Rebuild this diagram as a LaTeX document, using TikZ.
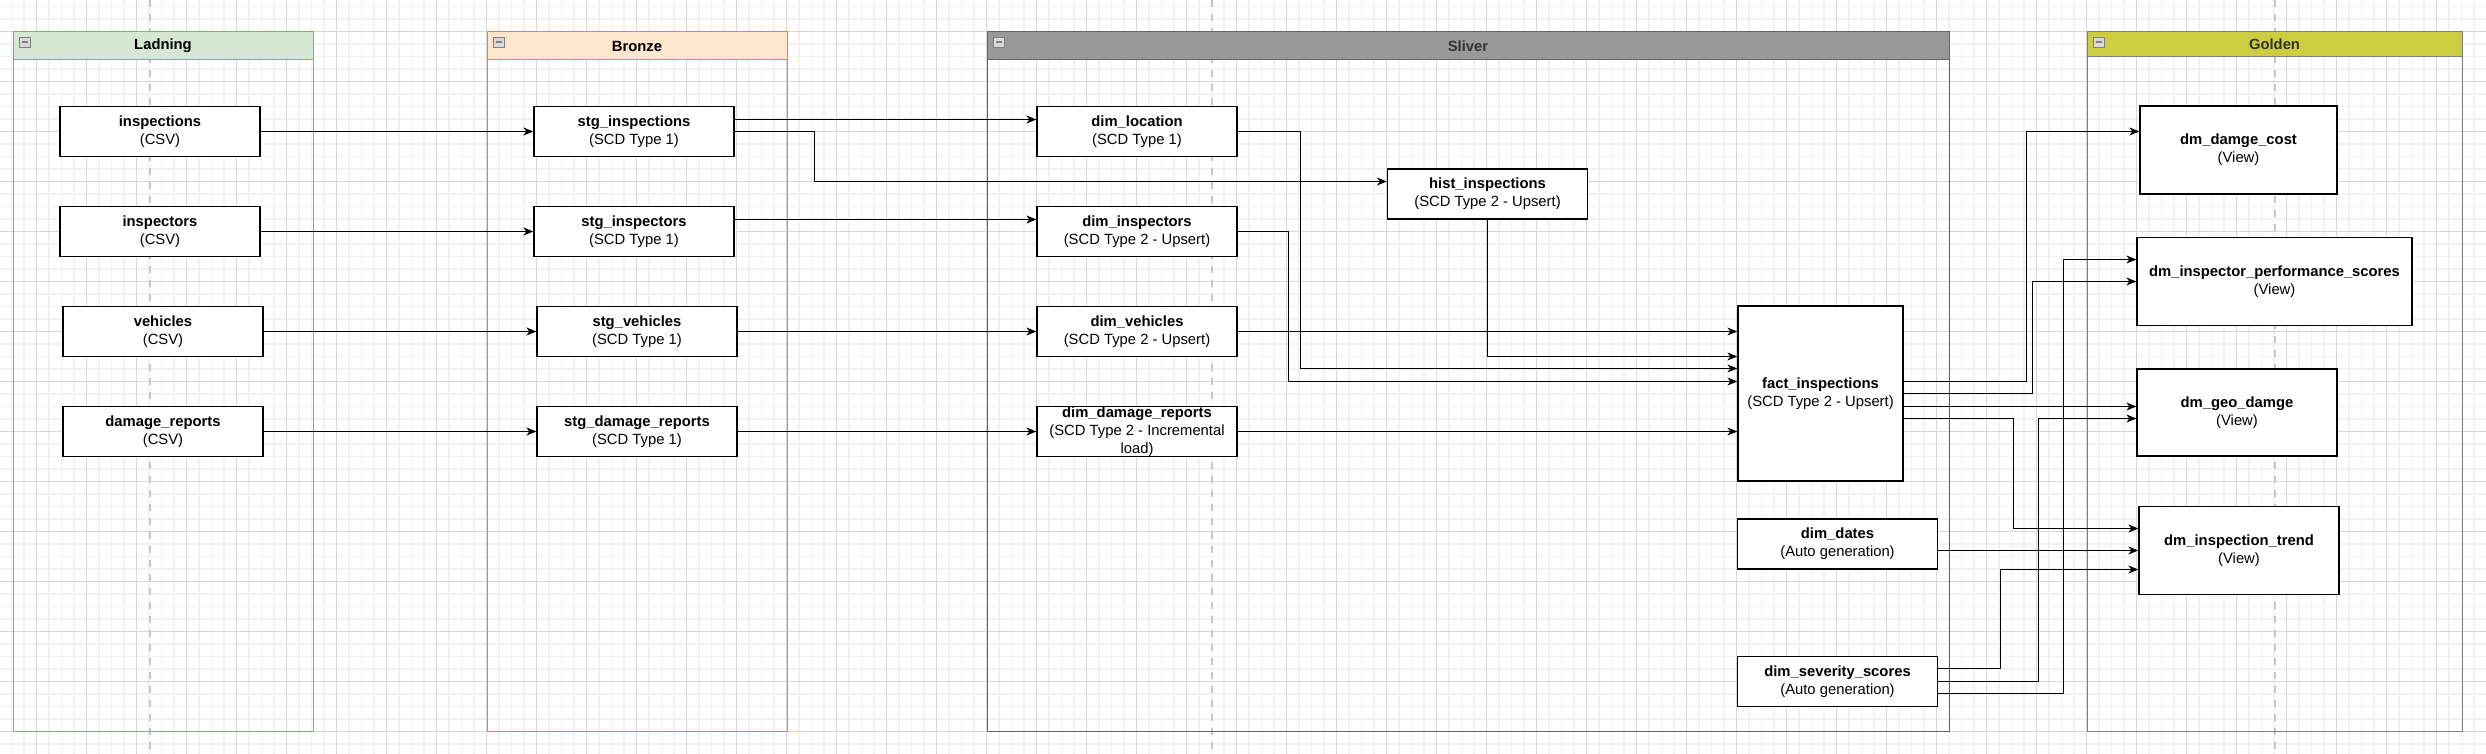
\documentclass[tikz,border=0pt]{standalone}
\usepackage{fontspec}
\setmainfont{Liberation Sans}
\usetikzlibrary{arrows.meta}

\definecolor{landfill}{HTML}{D5E8D4}
\definecolor{landline}{HTML}{82B366}
\definecolor{bronfill}{HTML}{FFE6CC}
\definecolor{bronline}{HTML}{D79B00}
\definecolor{silvfill}{HTML}{999999}
\definecolor{silvline}{HTML}{666666}
\definecolor{goldfill}{HTML}{CDCD40}
\definecolor{goldline}{HTML}{808080}
\definecolor{headtext}{HTML}{333333}
\definecolor{minorgrid}{HTML}{F2F2F2}
\definecolor{majorgrid}{HTML}{D8D8D8}

\tikzset{
  lanehead/.style={rectangle, line width=1pt, inner sep=0pt, font=\fontsize{14.8pt}{17.8pt}\selectfont\bfseries},
  lanebody/.style={line width=1pt},
  minbox/.style={rectangle, draw=black!50, fill=black!15, line width=0.8pt, inner sep=0pt, minimum width=11pt, minimum height=10pt,
    path picture={\draw[line width=1.3pt] ([xshift=2.5pt]path picture bounding box.west) -- ([xshift=-2.5pt]path picture bounding box.east);}},
}

\begin{document}
\begin{tikzpicture}[x=1pt, y=-1pt,
    tbl/.style={rectangle, draw=black, line width=1.3pt, fill=white, inner sep=0pt, minimum width=200pt, minimum height=50pt, align=center, font=\fontsize{14.8pt}{17.8pt}\selectfont},
    flow/.style={draw=black, line width=1.3pt, -{Stealth[length=10pt,width=8pt,inset=3pt]}},
    pagebreak/.style={draw=black!22, line width=2pt, dash pattern=on 7pt off 7pt}]
    \useasboundingbox (0,0) rectangle (2486,754);
    \fill[white] (0,0) rectangle (2486,754);

    % background grid
    \foreach \g in {0,...,198} \draw[minorgrid, line width=1.6pt] (11.5+12.5*\g,0) -- (11.5+12.5*\g,754);
    \foreach \g in {0,...,60} \draw[minorgrid, line width=1.6pt] (0,6.5+12.5*\g) -- (2486,6.5+12.5*\g);
    \foreach \g in {0,...,49} \draw[majorgrid, line width=1.2pt] (36.5+50*\g,0) -- (36.5+50*\g,754);
    \foreach \g in {0,...,14} \draw[majorgrid, line width=1.2pt] (0,31.5+50*\g) -- (2486,31.5+50*\g);
    \foreach \g in {149.5,1212,2274.5} \draw[pagebreak] (\g,0) -- (\g,754);

    % lanes
    \draw[lanebody, landline] (13,32) rectangle (313,731);
    \node (ladning) at (163,46) [lanehead, draw=landline, fill=landfill, minimum width=300pt, minimum height=28pt] {Ladning};
    \node (ladningmin) at (24.5,42) [minbox] {};

    \draw[lanebody, bronline] (487,32) rectangle (787,731);
    \node (bronze) at (637,46) [lanehead, draw=bronline, fill=bronfill, minimum width=300pt, minimum height=28pt] {Bronze};
    \node (bronzemin) at (498.5,42) [minbox] {};

    \draw[lanebody, silvline] (987,32) rectangle (1949,731);
    \node (sliver) at (1468,46) [lanehead, draw=silvline, fill=silvfill, text=headtext, minimum width=962pt, minimum height=28pt] {Sliver};
    \node (slivermin) at (998.5,42) [minbox] {};

    \draw[lanebody, goldline] (2087,32) rectangle (2462,731);
    \node (golden) at (2274.5,44.5) [lanehead, draw=goldline, fill=goldfill, text=headtext, minimum width=375pt, minimum height=25pt] {Golden};
    \node (goldenmin) at (2098.5,42) [minbox] {};

    % landing
    \node (src1) at (160,131.5) [tbl] {\textbf{inspections}\\(CSV)};
    \node (src2) at (160,231.5) [tbl] {\textbf{inspectors}\\(CSV)};
    \node (src3) at (163,331.5) [tbl] {\textbf{vehicles}\\(CSV)};
    \node (src4) at (163,431.5) [tbl] {\textbf{damage\_reports}\\(CSV)};

    % bronze
    \node (stg1) at (634,131.5) [tbl] {\textbf{stg\_inspections}\\(SCD Type 1)};
    \node (stg2) at (634,231.5) [tbl] {\textbf{stg\_inspectors}\\(SCD Type 1)};
    \node (stg3) at (637,331.5) [tbl] {\textbf{stg\_vehicles}\\(SCD Type 1)};
    \node (stg4) at (637,431.5) [tbl] {\textbf{stg\_damage\_reports}\\(SCD Type 1)};

    % silver
    \node (dim1) at (1137,131.5) [tbl] {\textbf{dim\_location}\\(SCD Type 1)};
    \node (dim2) at (1137,231.5) [tbl] {\textbf{dim\_inspectors}\\(SCD Type 2 - Upsert)};
    \node (dim3) at (1137,331.5) [tbl] {\textbf{dim\_vehicles}\\(SCD Type 2 - Upsert)};
    \node (dim4) at (1137,431.5) [tbl] {\textbf{dim\_damage\_reports}\\(SCD Type 2 - Incremental\\load)};
    \node (hist) at (1487.5,194) [tbl] {\textbf{hist\_inspections}\\(SCD Type 2 - Upsert)};
    \node (fact) at (1820.5,393.5) [tbl, minimum width=165pt, minimum height=175pt] {\textbf{fact\_inspections}\\(SCD Type 2 - Upsert)};
    \node (dates) at (1837.5,544) [tbl] {\textbf{dim\_dates}\\(Auto generation)};
    \node (sev) at (1837.5,681.5) [tbl] {\textbf{dim\_severity\_scores}\\(Auto generation)};

    % golden
    \node (gold1) at (2238.5,150) [tbl, minimum width=197pt, minimum height=88pt] {\textbf{dm\_damge\_cost}\\(View)};
    \node (gold2) at (2274.5,281.5) [tbl, minimum width=275pt, minimum height=88pt] {\textbf{dm\_inspector\_performance\_scores}\\(View)};
    \node (gold3) at (2237,412.5) [tbl, minimum width=200pt, minimum height=87pt] {\textbf{dm\_geo\_damge}\\(View)};
    \node (gold4) at (2239,550.5) [tbl, minimum width=200pt, minimum height=88pt] {\textbf{dm\_inspection\_trend}\\(View)};

    % landing -> bronze
    \draw[flow] (src1) -- (stg1);
    \draw[flow] (src2) -- (stg2);
    \draw[flow] (src3) -- (stg3);
    \draw[flow] (src4) -- (stg4);

    % bronze -> silver
    \draw[flow] ([yshift=12pt]stg1.east) -- ([yshift=12pt]dim1.west);
    \draw[flow] (stg1.east) -- ++(79.5,0) |- ([yshift=12.5pt]hist.west);
    \draw[flow] ([yshift=12pt]stg2.east) -- ([yshift=12pt]dim2.west);
    \draw[flow] (stg3) -- (dim3);
    \draw[flow] (stg4) -- (dim4);

    % silver -> fact
    \draw[flow] (dim3.east) -- (dim3.east -| fact.west);
    \draw[flow] (hist.south) |- ([yshift=37pt]fact.west);
    \draw[flow] (dim1.east) -- ++(62.5,0) |- ([yshift=25pt]fact.west);
    \draw[flow] (dim2.east) -- ++(50.5,0) |- ([yshift=12pt]fact.west);
    \draw[flow] (dim4.east) -- (dim4.east -| fact.west);

    % silver -> golden
    \draw[flow] ([yshift=12pt]fact.east) -- ++(122.5,0) |- ([yshift=18.5pt]gold1.west);
    \draw[flow] (fact.east) -- ++(128.5,0) |- (gold2.west);
    \draw[flow] ([yshift=-13pt]fact.east) -- ([yshift=-13pt]fact.east -| gold3.west);
    \draw[flow] ([yshift=-25pt]fact.east) -- ++(109.5,0) |- ([yshift=22pt]gold4.west);
    \draw[flow] (gold4.west -| dates.east) -- (gold4.west);
    \draw[flow] ([yshift=13pt]sev.east) -- ++(62.5,0) |- ([yshift=-19pt]gold4.west);
    \draw[flow] (sev.east) -- ++(100.5,0) |- ([yshift=-6pt]gold3.west);
    \draw[flow] ([yshift=-12pt]sev.east) -- ++(125.5,0) |- ([yshift=22pt]gold2.west);
\end{tikzpicture}
\end{document}
